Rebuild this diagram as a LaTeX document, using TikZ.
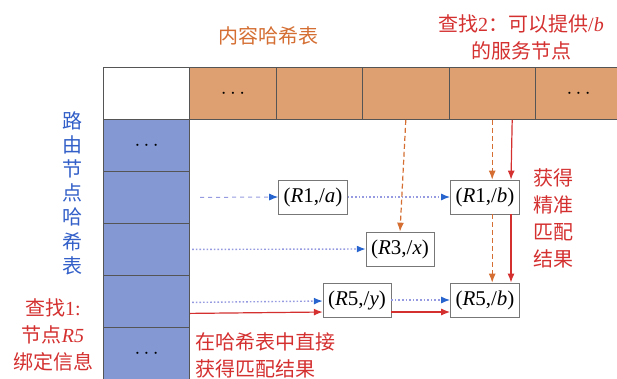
\documentclass[tikz,border=0pt]{standalone}
\usepackage{fontspec}
\setmainfont{Liberation Serif}
\newfontfamily\cjk{Noto Sans CJK SC}
\usetikzlibrary{arrows.meta,calc}
\newcommand\lat[1]{{\rmfamily #1}}
\newcommand\lit[1]{{\rmfamily\itshape #1}}
\definecolor{cellor}{RGB}{222,160,112}
\definecolor{cellbl}{RGB}{132,152,212}
\definecolor{txor}{RGB}{212,110,50}
\definecolor{txbl}{RGB}{50,95,200}
\definecolor{txrd}{RGB}{212,48,48}
\definecolor{lnbl}{RGB}{150,155,225}
\definecolor{tipbl}{RGB}{40,100,205}
\definecolor{gridc}{RGB}{85,85,85}
\tikzset{
  cell/.style={draw=gridc,line width=0.8pt,minimum width=86.4pt,minimum height=52pt,inner sep=0pt,anchor=north west,font=\fontsize{22}{22}\selectfont},
  topcell/.style={cell,fill=cellor},
  leftcell/.style={cell,fill=cellbl},
  pair/.style={draw=gridc!80,line width=0.7pt,fill=white,minimum height=34pt,inner xsep=5pt,inner ysep=3pt,font=\fontsize{21}{24}\selectfont},
  bluedot/.style={draw=lnbl,line width=1.4pt,dash pattern=on 1.6pt off 2pt,-{Latex[length=9pt,width=7pt,color=tipbl]}},
  bluedash/.style={draw=lnbl,line width=1pt,dash pattern=on 4pt off 4pt,-{Latex[length=9pt,width=7pt,color=tipbl]}},
  ordash/.style={draw=txor,line width=1.2pt,dash pattern=on 5pt off 3pt,-{Latex[length=9pt,width=7pt]}},
  redline/.style={draw=txrd,line width=1.2pt,-{Latex[length=9pt,width=7pt]}},
  lab/.style={font=\cjk\fontsize{20}{27}\selectfont,align=center,inner sep=0pt}
}
\begin{document}
\begin{tikzpicture}[x=1pt,y=-1pt]
\useasboundingbox (0,0) rectangle (617,378);
\begin{scope}
\clip (0,0) rectangle (617,378);
\node[cell,fill=white] (t0) at (103,67) {};
\node[topcell] (t1) at (189.4,67) {$\cdots$};
\node[topcell] (t2) at (275.8,67) {};
\node[topcell] (t3) at (362.2,67) {};
\node[topcell] (t4) at (448.6,67) {};
\node[topcell] (t5) at (535,67) {$\cdots$};
\node[leftcell] (l1) at (103,119) {$\cdots$};
\node[leftcell] (l2) at (103,171) {};
\node[leftcell] (l3) at (103,223) {};
\node[leftcell] (l4) at (103,275) {};
\node[leftcell] (l5) at (103,327) {$\cdots$};
\end{scope}

\node[pair] (r1a) at (313,197) {(\textit{R}1,/\textit{a})};
\node[pair] (r1b) at (485,197) {(\textit{R}1,/\textit{b})};
\node[pair] (r3) at (400,249) {(\textit{R}3,/\textit{x})};
\node[pair] (r5y) at (357,300) {(\textit{R}5,/\textit{y})};
\node[pair] (r5b) at (485,300) {(\textit{R}5,/\textit{b})};

% blue lookups from routing table
\draw[bluedash] ([xshift=10pt]l2.east) -- (r1a.west);
\draw[bluedot] (r1a.east) -- (r1b.west);
\draw[bluedot] ([xshift=2pt]l3.east) -- (r3.west);
\draw[bluedot] ([xshift=2pt,yshift=-1pt]l4.east) -- ([yshift=-1pt]r5y.west);
\draw[bluedot] (r5y.east) -- (r5b.west);
% red direct
\draw[redline] ([yshift=-12pt]l4.east) -- ([yshift=-12pt]r5y.west);
\draw[redline] ([yshift=-12pt]r5y.east) -- ([yshift=-12pt]r5b.west);
% orange from content table
\draw[ordash] (t3.south) -- (r3.north);
\draw[ordash] (t4.south) -- (r1b.north -| t4.south);
\draw[ordash] (r1b.south -| t4.south) -- (r5b.north -| t4.south);
\draw[redline] ([xshift=20pt]t4.south) -- ([xshift=26pt]r1b.north);
\draw[redline] ([xshift=26pt]r1b.south) -- ([xshift=26pt]r5b.north);

% labels
\node[lab,text=txor] (title1) at (268,36) {内容哈希表};
\node[lab,text=txrd] (q2) at (521,37) {查找\lat{2}：可以提供\lat{/}\lit{b}\\的服务节点};
\node[lab,text=txbl,font=\cjk\fontsize{20}{24.2}\selectfont] (title2) at (72,193) {路\\由\\节\\点\\哈\\希\\表};
\node[lab,text=txrd] (q1) at (53,335) {查找\lat{1:}\\节点\lit{R5}\\绑定信息};
\node[lab,text=txrd] (res1) at (553,218) {获得\\精准\\匹配\\结果};
\node[lab,text=txrd,align=left,anchor=west] (res2) at (195,355) {在哈希表中直接\\获得匹配结果};
\end{tikzpicture}
\end{document}
